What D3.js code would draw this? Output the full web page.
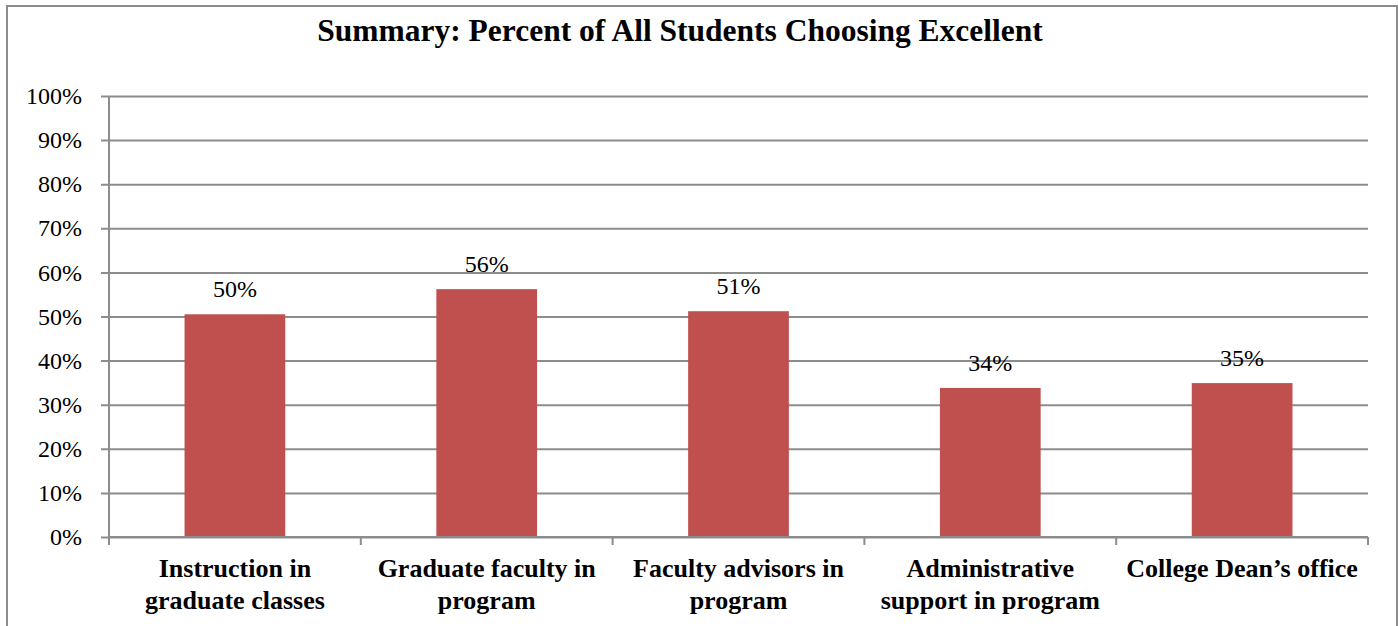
<!DOCTYPE html>
<html>
<head>
<meta charset="utf-8">
<script src="https://cdn.jsdelivr.net/npm/d3@7"></script>
<style>
  body { margin: 0; background: #fff; }
  text { font-family: "Liberation Serif", "Times New Roman", serif; fill: #000; }
</style>
</head>
<body>
<div class="board"></div>
<script>
var WIDTH = 1398;
var HEIGHT = 626;

var categories = [
  ['Instruction in', 'graduate classes'],
  ['Graduate faculty in', 'program'],
  ['Faculty advisors in', 'program'],
  ['Administrative', 'support in program'],
  ['College Dean\u2019s office']
];
var values = [0.505, 0.562, 0.512, 0.338, 0.349];
var valueLabels = ['50%', '56%', '51%', '34%', '35%'];
var yTicks = [0, 0.1, 0.2, 0.3, 0.4, 0.5, 0.6, 0.7, 0.8, 0.9, 1];

var plotLeft = 109, plotRight = 1368, plotTop = 96, plotBottom = 537;

var svg = d3.select('.board')
  .append('svg')
  .attr('width', WIDTH)
  .attr('height', HEIGHT);

// chart frame
svg.append('rect')
  .attr('x', 7)
  .attr('y', 6)
  .attr('width', 1390)
  .attr('height', 640)
  .attr('fill', 'none')
  .attr('stroke', '#8c8c8c')
  .attr('stroke-width', 2);

svg.append('text')
  .attr('x', 680)
  .attr('y', 41)
  .attr('text-anchor', 'middle')
  .style('font-size', '31.5px')
  .style('font-weight', 'bold')
  .text('Summary: Percent of All Students Choosing Excellent');

var x = d3.scaleBand()
  .domain(d3.range(categories.length))
  .range([plotLeft, plotRight])
  .paddingInner(0.6)
  .paddingOuter(0.3);

var y = d3.scaleLinear()
  .domain([0, 1])
  .range([plotBottom, plotTop]);

// gridlines + y ticks
var yAxis = svg.append('g')
  .attr('transform', 'translate(' + plotLeft + ',0)')
  .call(d3.axisLeft(y)
    .tickValues(yTicks)
    .tickSize(-(plotRight - plotLeft))
    .tickSizeOuter(0)
    .tickPadding(26)
    .tickFormat(d3.format('.0%')));
yAxis.select('.domain').remove();
yAxis.selectAll('.tick line')
  .attr('x1', -8)
  .attr('stroke', '#8c8c8c')
  .attr('stroke-width', 2);
yAxis.selectAll('.tick text')
  .attr('x', -27)
  .style('font-size', '24px')
  .style('font-family', '"Liberation Serif", serif')
  .attr('fill', '#000');

// y axis line
svg.append('line')
  .attr('x1', plotLeft).attr('x2', plotLeft)
  .attr('y1', plotTop).attr('y2', plotBottom)
  .attr('stroke', '#8c8c8c')
  .attr('stroke-width', 2);

// bars
svg.selectAll('rect.bar')
  .data(values)
  .enter()
  .append('rect')
  .attr('class', 'bar')
  .attr('x', function(d, i) { return x(i); })
  .attr('y', function(d) { return y(d); })
  .attr('width', x.bandwidth())
  .attr('height', function(d) { return y(0) - y(d); })
  .attr('fill', '#c0504d');

// value labels
svg.selectAll('text.val')
  .data(values)
  .enter()
  .append('text')
  .attr('class', 'val')
  .attr('x', function(d, i) { return x(i) + x.bandwidth() / 2; })
  .attr('y', function(d) { return y(d) - 17; })
  .attr('text-anchor', 'middle')
  .style('font-size', '24px')
  .text(function(d, i) { return valueLabels[i]; });

// x axis line and category ticks
var step = x.step();
var bounds = d3.range(categories.length + 1).map(function(i) { return plotLeft + i * step; });
svg.append('line')
  .attr('x1', plotLeft).attr('x2', plotRight)
  .attr('y1', plotBottom).attr('y2', plotBottom)
  .attr('stroke', '#8c8c8c')
  .attr('stroke-width', 2);
svg.selectAll('line.xtick')
  .data(bounds)
  .enter()
  .append('line')
  .attr('class', 'xtick')
  .attr('x1', function(d) { return d; })
  .attr('x2', function(d) { return d; })
  .attr('y1', plotBottom)
  .attr('y2', plotBottom + 8)
  .attr('stroke', '#8c8c8c')
  .attr('stroke-width', 2);

// category labels
var cat = svg.selectAll('text.cat')
  .data(categories)
  .enter()
  .append('text')
  .attr('class', 'cat')
  .attr('text-anchor', 'middle')
  .style('font-size', '26px')
  .style('font-weight', 'bold');
cat.selectAll('tspan')
  .data(function(d, i) { return d.map(function(s) { return { s: s, i: i }; }); })
  .enter()
  .append('tspan')
  .attr('x', function(d) { return x(d.i) + x.bandwidth() / 2; })
  .attr('y', function(d, j) { return 577 + j * 32; })
  .text(function(d) { return d.s; });
</script>
</body>
</html>
